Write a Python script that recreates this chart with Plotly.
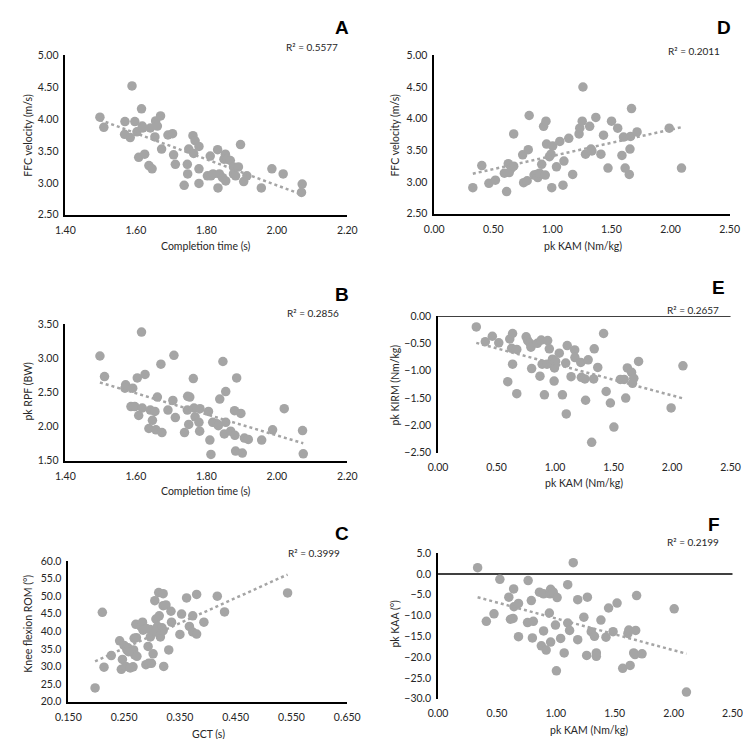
import numpy as np
import plotly.graph_objects as go

W, H = 751, 739

# ---------------- data ----------------
a_x = [1.498, 1.509, 1.569, 1.568, 1.584, 1.589, 1.597, 1.603, 1.608, 1.616, 1.618, 1.620, 1.625, 1.637,
       1.641, 1.646, 1.654, 1.656, 1.661, 1.670, 1.673, 1.691, 1.704, 1.707, 1.712, 1.737, 1.746, 1.747,
       1.750, 1.762, 1.764, 1.768, 1.779, 1.779, 1.779, 1.803, 1.811, 1.813, 1.819, 1.832, 1.833, 1.837,
       1.846, 1.854, 1.855, 1.850, 1.859, 1.868, 1.877, 1.877, 1.883, 1.891, 1.897, 1.906, 1.915, 1.956,
       1.986, 2.018, 2.072, 2.070]
a_y = [4.03, 3.87, 3.96, 3.76, 3.71, 4.52, 3.96, 3.80, 3.40, 4.16, 3.89, 3.86, 3.45, 3.27,
       3.86, 3.22, 3.72, 3.97, 3.89, 4.05, 3.53, 3.75, 3.77, 3.44, 3.29, 2.96, 3.29, 3.14,
       3.53, 3.74, 3.46, 3.66, 3.57, 3.22, 2.99, 3.11, 3.42, 3.11, 3.14, 3.52, 2.92, 3.14,
       3.08, 3.45, 3.03, 3.37, 3.37, 3.35, 3.25, 3.14, 3.11, 3.25, 3.60, 3.02, 3.11, 2.92,
       3.22, 3.14, 2.98, 2.85]

b_x = [1.498, 1.511, 1.571, 1.569, 1.591, 1.586, 1.597, 1.604, 1.608, 1.616, 1.618, 1.626, 1.637, 1.641,
       1.647, 1.654, 1.657, 1.661, 1.671, 1.674, 1.691, 1.705, 1.708, 1.712, 1.738, 1.746, 1.747, 1.750,
       1.753, 1.763, 1.765, 1.768, 1.779, 1.782, 1.781, 1.806, 1.810, 1.813, 1.818, 1.830, 1.834, 1.838,
       1.847, 1.851, 1.855, 1.855, 1.869, 1.880, 1.881, 1.883, 1.886, 1.898, 1.902, 1.908, 1.919, 1.957,
       1.988, 2.021, 2.073, 2.075]
b_y = [3.03, 2.73, 2.61, 2.56, 2.56, 2.29, 2.29, 2.71, 2.16, 3.38, 2.27, 2.76, 1.97, 2.24,
       2.09, 2.22, 1.95, 2.43, 2.91, 1.91, 2.24, 2.38, 3.04, 2.13, 1.91, 2.24, 2.44, 2.03,
       2.43, 2.70, 2.27, 2.14, 2.06, 2.26, 1.93, 2.22, 1.80, 1.59, 2.06, 2.04, 2.01, 2.40,
       2.95, 1.89, 2.51, 2.06, 1.93, 2.23, 1.87, 1.64, 2.71, 2.19, 1.61, 1.83, 1.81, 1.80,
       1.95, 2.26, 1.94, 1.60]

c_x = [0.198, 0.211, 0.214, 0.227, 0.242, 0.245, 0.247, 0.250, 0.253, 0.255, 0.257, 0.266, 0.268, 0.267,
       0.269, 0.271, 0.272, 0.273, 0.280, 0.283, 0.284, 0.289, 0.293, 0.294, 0.297, 0.297, 0.299, 0.302,
       0.305, 0.307, 0.310, 0.312, 0.313, 0.313, 0.315, 0.318, 0.320, 0.320, 0.321, 0.325, 0.330, 0.334,
       0.335, 0.350, 0.353, 0.362, 0.367, 0.373, 0.373, 0.380, 0.380, 0.393, 0.417, 0.430, 0.543, 0.290,
       0.261, 0.320, 0.306, 0.258]
c_y = [23.9, 45.4, 29.8, 33.1, 37.3, 29.2, 32.0, 36.0, 30.0, 34.7, 35.3, 29.9, 38.0, 34.7,
       33.3, 42.0, 38.2, 32.9, 41.4, 42.6, 40.3, 30.5, 35.7, 30.9, 40.5, 38.4, 30.9, 33.6,
       48.7, 43.5, 41.4, 51.0, 44.4, 39.8, 38.4, 41.0, 50.7, 47.3, 30.0, 47.5, 34.7, 45.7,
       42.6, 39.1, 44.9, 49.5, 41.4, 44.4, 39.8, 50.5, 39.2, 42.6, 50.0, 45.5, 50.9, 40.8,
       29.6, 40.2, 39.8, 34.2]

d_x = [0.327, 0.403, 0.463, 0.518, 0.594, 0.613, 0.627, 0.635, 0.654, 0.673, 0.673, 0.749, 0.757, 0.787,
       0.796, 0.804, 0.845, 0.866, 0.877, 0.891, 0.910, 0.926, 0.940, 0.946, 0.951, 0.975, 0.989, 0.995,
       1.003, 1.035, 1.063, 1.090, 1.098, 1.139, 1.172, 1.226, 1.232, 1.253, 1.259, 1.281, 1.316, 1.327,
       1.335, 1.368, 1.411, 1.433, 1.471, 1.501, 1.553, 1.589, 1.602, 1.616, 1.651, 1.657, 1.662, 1.670,
       1.717, 1.989, 2.093]
d_y = [2.91, 3.26, 2.98, 3.03, 3.14, 2.85, 3.29, 3.15, 3.22, 3.76, 3.25, 3.43, 2.99, 3.02,
       3.51, 4.05, 3.11, 3.12, 3.07, 3.14, 3.28, 3.88, 3.11, 3.96, 3.60, 3.40, 3.44, 2.91,
       3.57, 3.24, 3.64, 2.95, 3.33, 3.69, 3.12, 3.76, 3.85, 3.96, 4.50, 3.44, 3.88, 3.52,
       3.49, 4.02, 3.44, 3.74, 3.22, 3.96, 3.85, 3.42, 3.71, 3.22, 3.12, 3.52, 3.72, 4.16,
       3.79, 3.85, 3.22]

e_x = [0.327, 0.404, 0.464, 0.519, 0.596, 0.613, 0.629, 0.637, 0.637, 0.673, 0.673, 0.753, 0.766, 0.786,
       0.794, 0.800, 0.849, 0.871, 0.882, 0.890, 0.909, 0.931, 0.937, 0.951, 0.967, 0.978, 0.992, 0.995,
       1.005, 1.036, 1.063, 1.091, 1.096, 1.104, 1.137, 1.168, 1.170, 1.220, 1.225, 1.255, 1.261, 1.283,
       1.313, 1.330, 1.335, 1.365, 1.415, 1.437, 1.473, 1.503, 1.558, 1.591, 1.604, 1.618, 1.654, 1.662,
       1.673, 1.714, 1.992, 2.093]
e_y = [-0.20, -0.47, -0.37, -0.49, -1.20, -0.42, -0.59, -0.32, -0.88, -0.61, -1.42, -0.38, -0.45, -0.50,
       -0.57, -0.96, -0.50, -1.10, -0.44, -0.88, -1.44, -0.88, -0.45, -0.60, -0.87, -0.79, -1.19, -0.95,
       -0.83, -0.68, -1.44, -0.86, -1.79, -0.54, -1.11, -0.62, -0.76, -0.85, -1.12, -1.15, -1.54, -0.80,
       -2.31, -1.15, -0.60, -0.94, -0.32, -1.38, -1.59, -2.03, -1.16, -1.16, -1.50, -0.95, -1.03, -1.23,
       -1.14, -0.83, -1.68, -0.91]

f_x = [0.336, 0.410, 0.475, 0.525, 0.601, 0.615, 0.637, 0.642, 0.645, 0.683, 0.683, 0.765, 0.760, 0.792,
       0.809, 0.801, 0.861, 0.877, 0.896, 0.896, 0.918, 0.945, 0.951, 0.956, 0.956, 0.978, 0.997, 1.005,
       1.011, 1.041, 1.071, 1.101, 1.101, 1.117, 1.148, 1.186, 1.186, 1.238, 1.262, 1.268, 1.301, 1.328,
       1.344, 1.344, 1.383, 1.426, 1.448, 1.486, 1.520, 1.568, 1.612, 1.620, 1.631, 1.661, 1.678, 1.686,
       1.672, 1.732, 2.005, 2.109]
f_y = [1.5, -11.4, -9.6, -1.3, -5.6, -10.9, -10.7, -3.6, -7.9, -7.1, -15.1, -1.6, -11.7, -6.4,
       -11.4, -15.4, -4.4, -17.3, -13.7, -4.8, -18.3, -9.4, -4.8, -3.7, -16.4, -4.4, -12.3, -23.3,
       -5.7, -15.5, -19.0, -2.6, -11.8, -13.6, 2.7, -6.2, -15.8, -10.4, -19.6, -5.6, -13.9, -15.0,
       -19.0, -19.8, -11.1, -15.2, -8.2, -13.9, -7.0, -22.7, -14.3, -13.5, -22.0, -19.0, -13.6, -5.2,
       -19.4, -19.2, -8.4, -28.4]

panel_letters = ["A", "B", "C", "D", "E", "F"]
r2_labels = ["R² = 0.5577", "R² = 0.2856", "R² = 0.3999", "R² = 0.2011", "R² = 0.2657", "R² = 0.2199"]
x_titles = ["Completion time (s)", "Completion time (s)", "GCT (s)",
            "pk KAM (Nm/kg)", "pk KAM (Nm/kg)", "pk KAM (Nm/kg)"]
y_titles = ["FFC velocity (m/s)", "pk RPF (BW)", "Knee flexion ROM (°)",
            "FFC velocity (m/s)", "pk KIRM (Nm/kg)", "pk KAA (°)"]

x_ranges = [[1.40, 2.20], [1.40, 2.20], [0.150, 0.650], [0.0, 2.5], [0.0, 2.5], [0.0, 2.5]]
y_ranges = [[2.50, 5.00], [1.50, 3.50], [20.0, 60.0], [2.50, 5.00], [-2.50, 0.0], [-30.0, 5.0]]
x_dtick = [0.2, 0.2, 0.1, 0.5, 0.5, 0.5]
y_dtick = [0.5, 0.5, 5.0, 0.5, 0.5, 5.0]
x_fmt = [".2f", ".2f", ".3f", ".2f", ".2f", ".2f"]
y_fmt = [".2f", ".2f", ".1f", ".2f", ".2f", ".1f"]

series = [(a_x, a_y), (b_x, b_y), (c_x, c_y), (d_x, d_y), (e_x, e_y), (f_x, f_y)]

# ---------------- layout geometry (pixels) ----------------
dom_px_x = [(46, 338), (46, 338), (49, 338), (428, 734), (432, 735), (432, 737)]
dom_px_y = [(42, 204), (315, 454), (556, 699), (42, 203), (307, 446), (548, 696)]
letter_pos = [(332, 14), (332, 285), (332, 528), (728, 14), (723, 278), (718, 519)]
r2_pos = [(301, 34), (302, 304), (304, 548), (697, 38), (696, 301), (696, 537)]
xt_pos = [(192, 236), (192, 485), (194, 732), (582, 236), (583, 477), (588, 728)]
yt_pos = [(7, 123), (7, 383), (7, 620), (387, 123), (387, 377), (387, 620)]

def px(x):
    return x / W

def py(y):
    return 1 - y / H

DOT = "#A5A5A5"
TXT = "#262626"
FONT = "Lato, 'Open Sans', sans-serif"
CLEAR = "rgba(0,0,0,0)"

fig = go.Figure()
annotations = []
shapes = []

for i, (xs, ys) in enumerate(series):
    n = i + 1
    xa = "x" if n == 1 else f"x{n}"
    ya = "y" if n == 1 else f"y{n}"
    fig.add_trace(go.Scatter(x=xs, y=ys, mode="markers", xaxis=xa, yaxis=ya,
                             marker=dict(color=DOT, size=9.5, line=dict(width=0)),
                             showlegend=False, hoverinfo="x+y"))
    # linear trendline from data
    xarr = np.array(xs)
    yarr = np.array(ys)
    k, b = np.polyfit(xarr, yarr, 1)
    tx = np.array([xarr.min(), xarr.max()])
    fig.add_trace(go.Scatter(x=tx, y=k * tx + b, mode="lines", xaxis=xa, yaxis=ya,
                             line=dict(color=DOT, width=2.5, dash="dot"),
                             showlegend=False, hoverinfo="skip"))

    zero_axis = y_ranges[i][0] < 0
    xkey = "xaxis" if n == 1 else f"xaxis{n}"
    ykey = "yaxis" if n == 1 else f"yaxis{n}"
    fig.update_layout(**{
        xkey: dict(domain=[px(dom_px_x[i][0]), px(dom_px_x[i][1])], anchor=ya,
                   range=x_ranges[i], dtick=x_dtick[i], tick0=x_ranges[i][0], tickformat=x_fmt[i],
                   showgrid=False, zeroline=False, showline=not zero_axis, linecolor="black",
                   linewidth=1.5, ticks="outside", ticklen=5, tickcolor=CLEAR,
                   tickfont=dict(family=FONT, size=10.5, color=TXT)),
        ykey: dict(domain=[py(dom_px_y[i][1]), py(dom_px_y[i][0])], anchor=xa,
                   range=y_ranges[i], dtick=y_dtick[i], tick0=y_ranges[i][0], tickformat=y_fmt[i],
                   showgrid=False, zeroline=False, showline=True, linecolor="black",
                   linewidth=1.5, ticks="outside", ticklen=3, tickcolor=CLEAR,
                   tickfont=dict(family=FONT, size=10.5, color=TXT)),
    })
    if zero_axis:
        shapes.append(dict(type="line", xref=f"{xa} domain", yref=ya, x0=0, x1=1, y0=0, y1=0,
                           line=dict(color="black", width=1.5), layer="below"))

    annotations.append(dict(text=f"<b>{panel_letters[i]}</b>", x=px(letter_pos[i][0]), y=py(letter_pos[i][1]),
                            xref="paper", yref="paper", showarrow=False, xanchor="center", yanchor="middle",
                            font=dict(family="Liberation Sans, Arial", size=19, color="black")))
    annotations.append(dict(text=r2_labels[i], x=px(r2_pos[i][0]), y=py(r2_pos[i][1]),
                            xref="paper", yref="paper", showarrow=False, xanchor="center", yanchor="middle",
                            font=dict(family=FONT, size=10, color=TXT)))
    annotations.append(dict(text=x_titles[i], x=px(xt_pos[i][0]), y=py(xt_pos[i][1]),
                            xref="paper", yref="paper", showarrow=False, xanchor="center", yanchor="middle",
                            font=dict(family=FONT, size=10.5, color=TXT)))
    annotations.append(dict(text=y_titles[i], x=px(yt_pos[i][0]), y=py(yt_pos[i][1]),
                            xref="paper", yref="paper", showarrow=False, xanchor="center", yanchor="middle",
                            textangle=-90, font=dict(family=FONT, size=10.5, color=TXT)))

fig.update_layout(width=W, height=H, margin=dict(l=0, r=0, t=0, b=0),
                  paper_bgcolor="white", plot_bgcolor="white",
                  annotations=annotations, shapes=shapes, showlegend=False)

fig.write_html("out.html")
